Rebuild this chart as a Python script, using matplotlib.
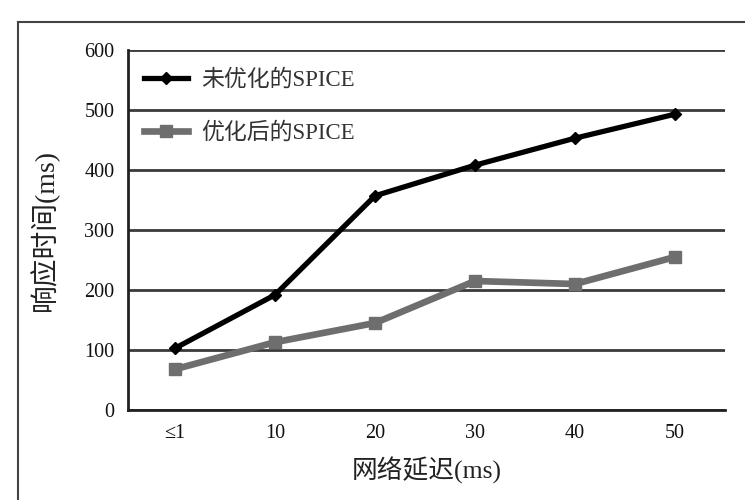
import matplotlib.pyplot as plt
from matplotlib.lines import Line2D

plt.rcParams['font.family'] = ['Liberation Serif', 'Noto Sans CJK SC']

delays = ['≤1', '10', '20', '30', '40', '50']
unoptimized = [103, 192, 357, 408, 453, 493]
optimized = [68, 113, 145, 215, 210, 255]

fig = plt.figure(figsize=(7.45, 5), dpi=100)
ax = fig.add_axes([0.172, 0.18, 0.801, 0.72])

x = range(len(delays))
ax.plot(x, unoptimized, color='black', lw=3.8, marker='D', ms=6,
        label='未优化的SPICE', zorder=3)
ax.plot(x, optimized, color='#6e6e6e', lw=4.8, marker='s', ms=8,
        label='优化后的SPICE', zorder=3)

ax.set_ylim(0, 600)
ax.set_yticks(range(0, 601, 100))
ax.set_xlim(-0.47, 5.5)
ax.set_xticks(list(x))
ax.set_xticklabels(delays)
ax.tick_params(length=0, labelsize=14.5, colors='#111111', pad=10)
ax.grid(axis='y', color='#3a3a3a', lw=2)
ax.set_axisbelow(True)

for s in ['top', 'right']:
    ax.spines[s].set_visible(False)
for s in ['left', 'bottom']:
    ax.spines[s].set_linewidth(2)
    ax.spines[s].set_color('#222222')

ax.set_xlabel('网络延迟(ms)', fontsize=18.5, labelpad=10, color='#222222')
ax.set_ylabel('响应时间(ms)', fontsize=20, labelpad=18, color='#222222')

ax.legend(loc='upper left', frameon=False, fontsize=16.5, handlelength=1.9,
          handletextpad=0.6, labelspacing=1.35, borderaxespad=0.3,
          bbox_to_anchor=(0.0, 0.99), labelcolor='#333333')

# outer frame of the scanned figure
fig.add_artist(Line2D([0.024, 1.0], [0.956, 0.956], color='#444444', lw=1.5))
fig.add_artist(Line2D([0.024, 0.024], [0.0, 0.956], color='#444444', lw=1.5))

fig.savefig('out.png', dpi=100)
